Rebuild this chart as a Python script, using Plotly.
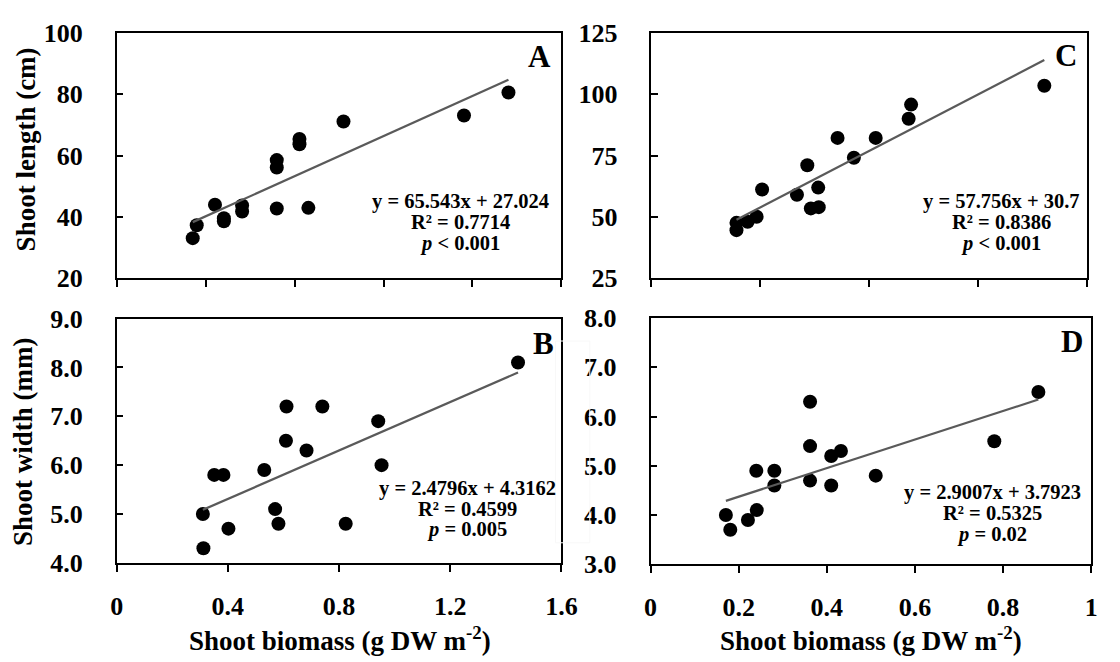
import plotly.graph_objects as go

W, H = 1120, 662

# ---------------- data ----------------
# Panel A: shoot biomass vs shoot length (cm)
a_x = [0.171, 0.180, 0.221, 0.241, 0.241, 0.282, 0.282, 0.360, 0.360, 0.360,
       0.411, 0.411, 0.431, 0.510, 0.781, 0.881]
a_y = [33.0, 37.2, 43.9, 39.5, 38.5, 43.7, 41.7, 58.5, 56.1, 42.7,
       65.4, 63.7, 42.9, 71.1, 73.1, 80.6]
a_fit = (65.543, 27.024)
a_text = ["y = 65.543x + 27.024", "R² = 0.7714", "<i>p</i> &lt; 0.001"]

# Panel B: shoot biomass vs shoot width (mm)
b_x = [0.312, 0.310, 0.351, 0.384, 0.402, 0.531, 0.570, 0.582, 0.609, 0.611,
       0.683, 0.740, 0.824, 0.941, 0.953, 1.444]
b_y = [4.3, 5.0, 5.8, 5.8, 4.7, 5.9, 5.1, 4.8, 6.5, 7.2,
       6.3, 7.2, 4.8, 6.9, 6.0, 8.1]
b_fit = (2.4796, 4.3162)
b_text = ["y = 2.4796x + 4.3162", "R² = 0.4599", "<i>p</i> = 0.005"]

# Panel C: shoot biomass vs shoot length (cm)
c_x = [0.312, 0.312, 0.353, 0.386, 0.406, 0.534, 0.572, 0.585, 0.614, 0.612,
       0.683, 0.743, 0.823, 0.944, 0.953, 1.442]
c_y = [47.5, 44.5, 47.9, 50.0, 61.1, 59.0, 71.0, 53.4, 53.9, 61.9,
       82.2, 74.1, 82.2, 90.0, 95.8, 103.5]
c_fit = (57.756, 30.7)
c_text = ["y = 57.756x + 30.7", "R² = 0.8386", "<i>p</i> &lt; 0.001"]

# Panel D: shoot biomass vs shoot width (mm)
d_x = [0.171, 0.181, 0.221, 0.241, 0.240, 0.281, 0.281, 0.362, 0.362, 0.362,
       0.410, 0.432, 0.410, 0.511, 0.780, 0.880]
d_y = [4.0, 3.7, 3.9, 4.1, 4.9, 4.9, 4.6, 6.3, 5.4, 4.7,
       5.2, 5.3, 4.6, 4.8, 5.5, 6.5]
d_fit = (2.9007, 3.7923)
d_text = ["y = 2.9007x + 3.7923", "R² = 0.5325", "<i>p</i> = 0.02"]

ylab_len = "Shoot length (cm)"
ylab_wid = "Shoot width (mm)"
xlab = "Shoot biomass (g DW m<sup>-2</sup>)"

# ---------------- layout helpers ----------------
FONT = "Liberation Serif, Times New Roman, serif"


def px(x):
    return x / W


def py(y):
    return 1 - y / H


panels = [
    dict(x=a_x, y=a_y, fit=a_fit, text=a_text, ax="", dx=(112, 566), dy=(20, 276),
         xr=[0, 1], xd=0.2, yr=[20, 100], yd=20, yf="", letter="A", lpos=(544, 44),
         eq=(463, [196, 218, 240]), labels=False),
    dict(x=b_x, y=b_y, fit=b_fit, text=b_text, ax="2", dx=(112, 566), dy=(318.5, 574),
         xr=[0, 1.6], xd=0.4, yr=[4, 9], yd=1, yf=".1f", letter="B", lpos=(548, 345),
         eq=(470, [496, 517.5, 539]), labels=True),
    dict(x=c_x, y=c_y, fit=c_fit, text=c_text, ax="3", dx=(658, 1103), dy=(20, 276),
         xr=[0, 1.6], xd=0.4, yr=[25, 125], yd=25, yf="", letter="C", lpos=(1081, 43),
         eq=(1015, [196, 218, 240]), labels=False),
    dict(x=d_x, y=d_y, fit=d_fit, text=d_text, ax="4", dx=(657, 1107), dy=(318, 575.5),
         xr=[0, 1], xd=0.2, yr=[3, 8], yd=1, yf=".1f", letter="D", lpos=(1087, 343),
         eq=(1006, [500, 522, 544]), labels=True),
]

fig = go.Figure()
annotations = []

for p in panels:
    xa = "x" + p["ax"]
    ya = "y" + p["ax"]
    fig.add_trace(go.Scatter(
        x=p["x"], y=p["y"], mode="markers", xaxis=xa, yaxis=ya,
        marker=dict(color="black", size=14, line=dict(width=0)),
        showlegend=False, hoverinfo="skip"))
    slope, icpt = p["fit"]
    x0, x1 = min(p["x"]), max(p["x"])
    fig.add_trace(go.Scatter(
        x=[x0, x1], y=[slope * x0 + icpt, slope * x1 + icpt], mode="lines",
        xaxis=xa, yaxis=ya, line=dict(color="#5a5a5a", width=2.2),
        showlegend=False, hoverinfo="skip"))

    xkey = "xaxis" + p["ax"]
    ykey = "yaxis" + p["ax"]
    fig.layout[xkey] = dict(
        domain=[px(p["dx"][0]), px(p["dx"][1])], anchor=ya, range=p["xr"],
        dtick=p["xd"], tick0=0, showgrid=False, zeroline=False,
        showline=True, linecolor="black", linewidth=1.5, mirror=True,
        ticks="outside", ticklen=7, tickwidth=1.5, tickcolor="black",
        showticklabels=p["labels"], ticklabelstandoff=12,
        tickfont=dict(family=FONT, size=26, weight="bold", color="black"))
    fig.layout[ykey] = dict(
        domain=[py(p["dy"][1]), py(p["dy"][0])], anchor=xa, range=p["yr"],
        dtick=p["yd"], tick0=p["yr"][0], tickformat=p["yf"], showgrid=False,
        zeroline=False, showline=True, linecolor="black", linewidth=1.5,
        mirror=True, ticks="inside", ticklen=7, tickwidth=1.5, tickcolor="black",
        ticklabelstandoff=27,
        tickfont=dict(family=FONT, size=26, weight="bold", color="black"))

    annotations.append(dict(
        x=px(p["lpos"][0]), y=py(p["lpos"][1]), xref="paper", yref="paper",
        text="<b>%s</b>" % p["letter"], showarrow=False, xanchor="center",
        yanchor="middle", font=dict(family=FONT, size=31, color="black")))
    cx, ys = p["eq"]
    for t, yy in zip(p["text"], ys):
        annotations.append(dict(
            x=px(cx), y=py(yy), xref="paper", yref="paper", text="<b>%s</b>" % t,
            showarrow=False, xanchor="center", yanchor="middle",
            font=dict(family=FONT, size=20.5, color="black")))

annotations += [
    dict(x=px(19), y=py(142), xref="paper", yref="paper", text="<b>%s</b>" % ylab_len,
         textangle=-90, showarrow=False, xanchor="center", yanchor="middle",
         font=dict(family=FONT, size=27, color="black")),
    dict(x=px(17), y=py(447), xref="paper", yref="paper", text="<b>%s</b>" % ylab_wid,
         textangle=-90, showarrow=False, xanchor="center", yanchor="middle",
         font=dict(family=FONT, size=27, color="black")),
    dict(x=px(340), y=py(654), xref="paper", yref="paper", text="<b>%s</b>" % xlab,
         showarrow=False, xanchor="center", yanchor="middle",
         font=dict(family=FONT, size=27, color="black")),
    dict(x=px(882), y=py(654), xref="paper", yref="paper", text="<b>%s</b>" % xlab,
         showarrow=False, xanchor="center", yanchor="middle",
         font=dict(family=FONT, size=27, color="black")),
]

fig.update_layout(
    width=W, height=H, autosize=False,
    margin=dict(l=0, r=0, t=0, b=0),
    paper_bgcolor="white", plot_bgcolor="white",
    annotations=annotations,
    shapes=[dict(type="rect", xref="paper", yref="paper",
                 x0=px(560), x1=px(595), y0=py(553), y1=py(342),
                 line=dict(color="#f8f8f8", width=1))],
)

fig.write_html("out.html")
